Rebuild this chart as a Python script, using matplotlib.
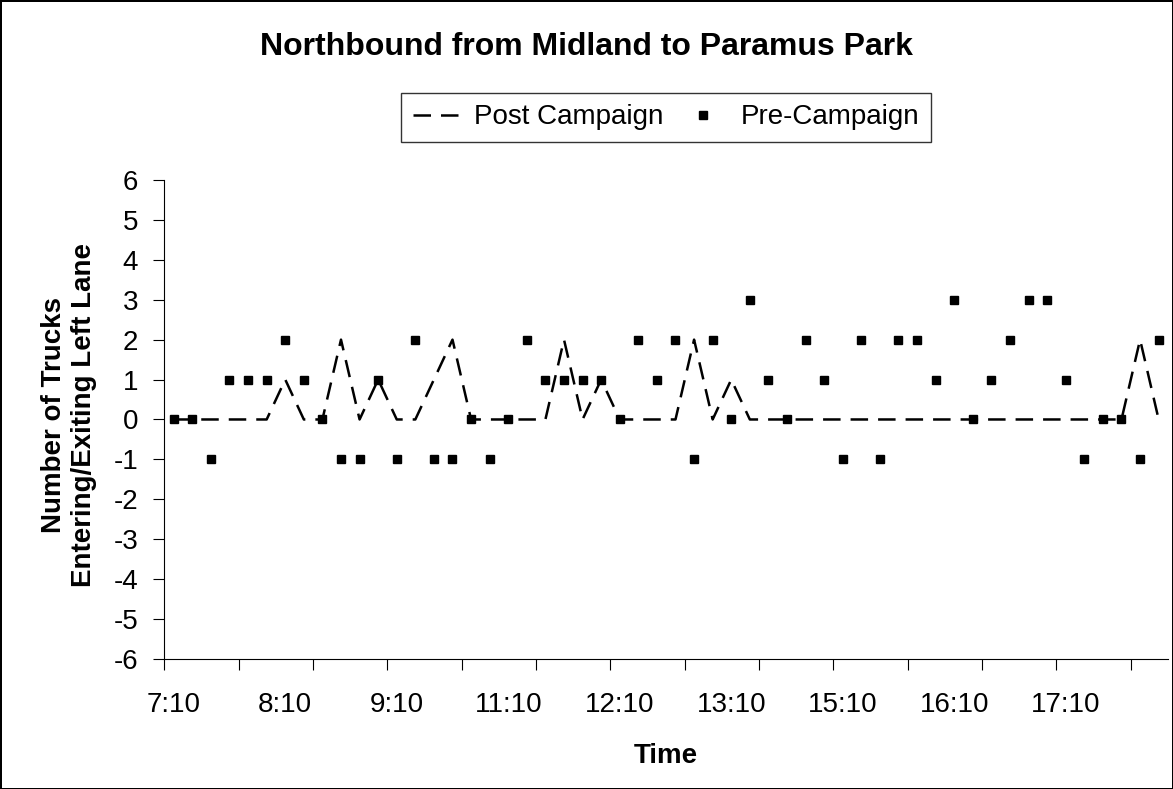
import matplotlib
matplotlib.use("Agg")
import matplotlib.pyplot as plt
from matplotlib.ticker import FixedLocator, NullFormatter, FixedFormatter

plt.rcParams['font.family'] = ['Liberation Sans', 'DejaVu Sans']
plt.rcParams['axes.unicode_minus'] = False

# --- datos ---
horas = [7, 8, 9, 11, 12, 13, 15, 16, 17]
tiempos = []
for h in horas:
    for m in [10, 20, 30, 40, 50]:
        tiempos.append(f"{h}:{m:02d}")
    tiempos.append(f"{h + 1}:00")

post_campaign = [0, 0, 0, 0, 0, 0, 1, 0, 0, 2,
                 0, 1, 0, 0, 1, 2, 0, 0, 0, 0,
                 0, 2, 0, 1, 0, 0, 0, 0, 2, 0,
                 1, 0, 0, 0, 0, 0, 0, 0, 0, 0,
                 0, 0, 0, 0, 0, 0, 0, 0, 0, 0,
                 0, 0, 2, 0]
pre_campaign = [0, 0, -1, 1, 1, 1, 2, 1, 0, -1, -1, 1, -1, 2, -1, -1, 0, -1,
                0, 2, 1, 1, 1, 1, 0, 2, 1, 2, -1, 2, 0, 3, 1, 0, 2, 1,
                -1, 2, -1, 2, 2, 1, 3, 0, 1, 2, 3, 3, 1, -1, 0, 0, -1, 2]

x = list(range(len(tiempos)))

fig = plt.figure(figsize=(11.73, 7.89), dpi=100)
fig.patch.set_facecolor('white')
fig.patch.set_edgecolor('black')
fig.patch.set_linewidth(2)

ax = fig.add_axes([0.1402, 0.1648, 0.8555, 0.6071])

ax.plot(x, post_campaign, color='black', linewidth=1.8, dashes=(7, 4),
        label='Post Campaign', zorder=2)
ax.plot(x, pre_campaign, linestyle='none', marker='s', markersize=5.5,
        color='black', label='Pre-Campaign', zorder=3)

ax.set_xlim(-0.5, len(tiempos) - 0.5)
ax.set_ylim(-6, 6)
ax.set_yticks(range(-6, 7))
ax.tick_params(axis='y', direction='out', length=8, width=0.8, pad=11,
               labelsize=20)

# marcas cada 4 categorias, etiquetas cada 6
ax.xaxis.set_major_locator(FixedLocator([i - 0.5 for i in range(0, len(tiempos), 4)]))
ax.xaxis.set_major_formatter(NullFormatter())
ax.xaxis.set_minor_locator(FixedLocator(x[::6]))
ax.xaxis.set_minor_formatter(FixedFormatter(tiempos[::6]))
ax.tick_params(axis='x', which='major', direction='out', length=8, width=0.8)
ax.tick_params(axis='x', which='minor', length=0, pad=24, labelsize=20)

for s in ['top', 'right']:
    ax.spines[s].set_visible(False)
for s in ['left', 'bottom']:
    ax.spines[s].set_linewidth(0.8)

ax.set_xlabel('Time', fontsize=20, fontweight='bold', labelpad=18)
ax.set_ylabel('Number of Trucks\nEntering/Exiting Left Lane', fontsize=20,
              fontweight='bold', va='center', linespacing=1.2)
ax.yaxis.set_label_coords(-0.095, 0.51)

fig.text(0.5, 1 - 47 / 789, 'Northbound from Midland to Paramus Park',
         ha='center', va='center', fontsize=23, fontweight='bold')

leg = fig.legend(loc='center', bbox_to_anchor=(666 / 1173, 1 - 117.5 / 789),
                 ncol=2, fontsize=20, frameon=True, fancybox=False,
                 edgecolor='black', handlelength=1.7, handletextpad=0.5,
                 columnspacing=0.6, borderpad=0.4)
leg.get_frame().set_linewidth(1)

fig.savefig('out.png', dpi=100)
